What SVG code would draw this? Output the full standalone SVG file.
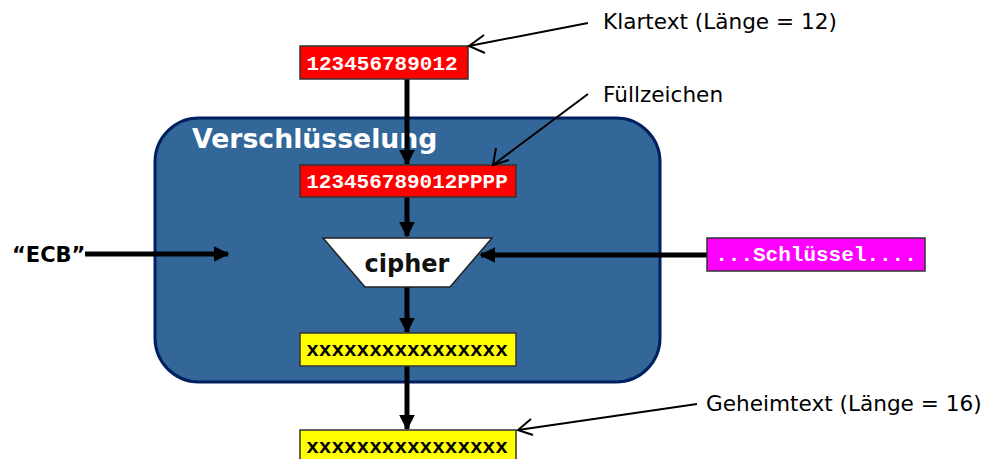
<svg xmlns="http://www.w3.org/2000/svg" width="986" height="459" viewBox="0 0 986 459">
<style>
.mono{font-family:"Liberation Mono","Courier New",monospace;font-weight:bold;font-size:21px}
.lbl{font-family:"DejaVu Sans",Verdana,sans-serif;font-size:21.6px;fill:#000}
.thick{stroke:#000;stroke-width:5;fill:none}
.thin{stroke:#000;stroke-width:2;fill:none}
.box{stroke:#333;stroke-width:1.5}
</style>
<defs>
<marker id="ah" viewBox="0 0 10 10" refX="9" refY="5" markerWidth="3.2" markerHeight="3.2" orient="auto" markerUnits="strokeWidth">
<path d="M0,0 L10,5 L0,10 z" fill="#000"/>
</marker>
</defs>
<g id="container">
<rect x="155" y="118" width="505" height="264" rx="44" ry="44" fill="#336699" stroke="#002060" stroke-width="3"/>
<text x="192" y="148" font-family="DejaVu Sans,Verdana,sans-serif" font-weight="bold" font-size="26.7" fill="#fff">Verschlüsselung</text>
</g>
<g id="connectors">
<line class="thick" x1="407" y1="79" x2="407" y2="164" marker-end="url(#ah)"/>
<line class="thick" x1="407" y1="197" x2="407" y2="236" marker-end="url(#ah)"/>
<line class="thick" x1="407" y1="287" x2="407" y2="332" marker-end="url(#ah)"/>
<line class="thick" x1="407" y1="366" x2="407" y2="429" marker-end="url(#ah)"/>
<line class="thick" x1="707" y1="255" x2="481" y2="255" marker-end="url(#ah)"/>
<line class="thick" x1="85" y1="254" x2="228" y2="254" marker-end="url(#ah)"/>
</g>
<g id="plain1">
<rect class="box" x="300" y="46" width="168" height="33" fill="#ff0000"/>
<text class="mono" x="382" y="70" text-anchor="middle" fill="#fff">123456789012</text>
</g>
<g id="plain2">
<rect class="box" x="300" y="165" width="216" height="32" fill="#ff0000"/>
<text class="mono" x="407" y="188" text-anchor="middle" fill="#fff">123456789012PPPP</text>
</g>
<g id="cipher">
<path d="M323,238 L492,238 L450,287 L365,287 z" fill="#fff" stroke="#222" stroke-width="1.5"/>
<text x="407" y="272" text-anchor="middle" font-family="DejaVu Sans,Verdana,sans-serif" font-weight="bold" font-size="24" fill="#111">cipher</text>
</g>
<g id="key">
<rect class="box" x="707" y="238" width="218" height="33" fill="#ff00ff"/>
<text class="mono" x="816" y="261" text-anchor="middle" fill="#fff">...Schlüssel....</text>
</g>
<g id="ecb">
<text x="12" y="262" font-family="DejaVu Sans,Verdana,sans-serif" font-weight="bold" font-size="21" fill="#000">“ECB”</text>
</g>
<g id="cipher1">
<rect class="box" x="300" y="333" width="216" height="33" fill="#ffff00"/>
<text class="mono" x="407" y="356" text-anchor="middle" fill="#000">xxxxxxxxxxxxxxxx</text>
</g>
<g id="cipher2">
<rect class="box" x="300" y="430" width="216" height="33" fill="#ffff00"/>
<text class="mono" x="407" y="453" text-anchor="middle" fill="#000">xxxxxxxxxxxxxxxx</text>
</g>
<g id="callouts">
<path class="thin" d="M588,23 L469,46"/>
<path class="thin" d="M484,35 L469,46 L485,53"/>
<path class="thin" d="M588,94 L493,165"/>
<path class="thin" d="M496,148 L493,165 L509,160"/>
<path class="thin" d="M697,404 L518,430"/>
<path class="thin" d="M531,419 L518,430 L533,435"/>
<text class="lbl" x="603" y="29">Klartext (Länge = 12)</text>
<text class="lbl" x="603" y="102">Füllzeichen</text>
<text class="lbl" x="706" y="411">Geheimtext (Länge = 16)</text>
</g>
</svg>
